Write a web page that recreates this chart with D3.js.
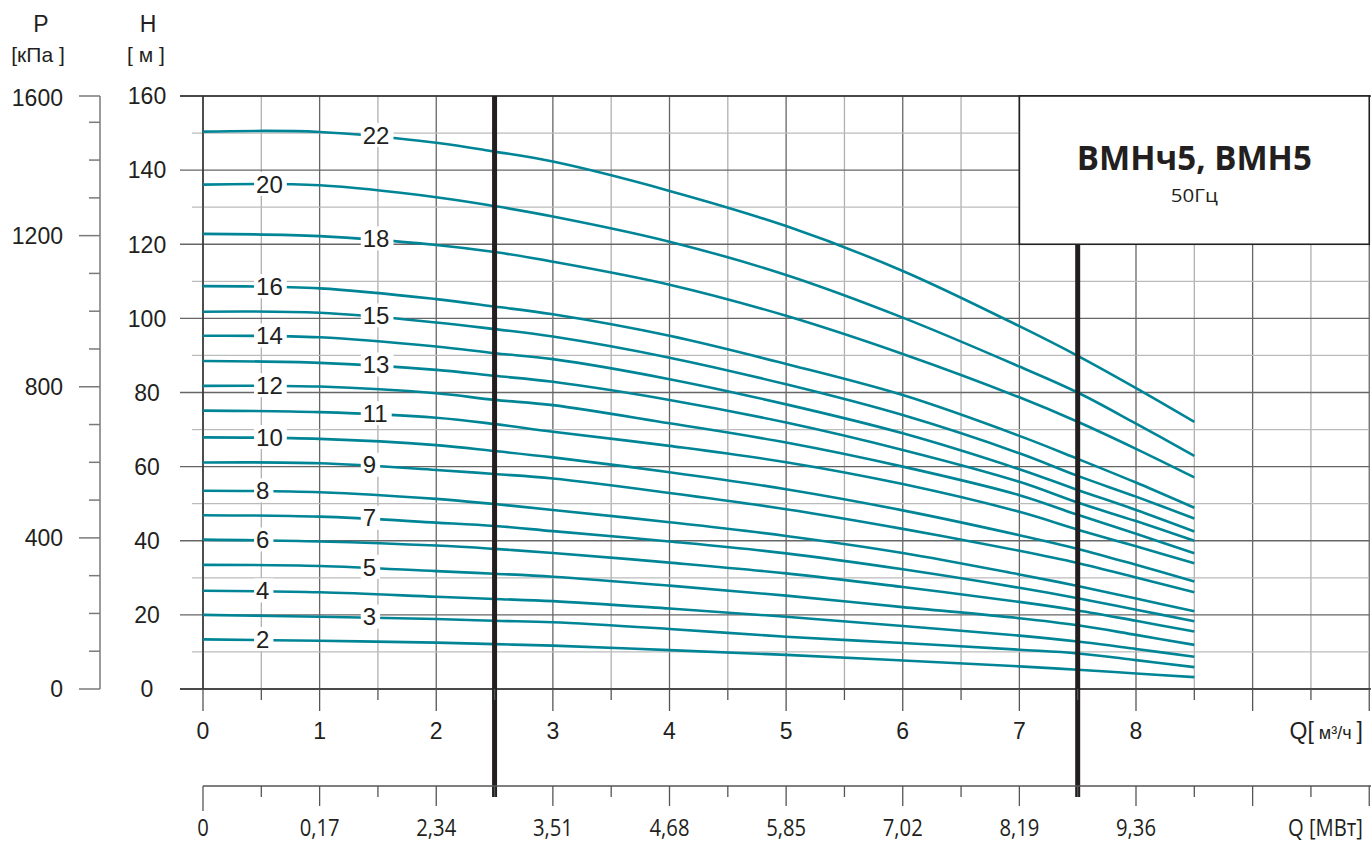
<!DOCTYPE html>
<html>
<head>
<meta charset="utf-8">
<script src="https://cdn.jsdelivr.net/npm/d3@7"></script>
<style>
  body { margin: 0; background: #fff; }
  svg { display: block; font-family: "Liberation Sans", Arial, sans-serif; }
</style>
</head>
<body>
<div class="d3"></div>
<script>
// flow rate points (m3/h)
const flow = [0, 1, 2, 2.5, 3, 4, 5, 6, 7, 7.5, 8, 8.5];

// head (m) per number of stages
const head22 = [150.4, 150.3, 147.4, 145.0, 142.3, 134.4, 124.9, 112.8, 97.9, 89.9, 81.2, 72.1];
const head20 = [136.1, 135.9, 132.7, 130.3, 127.5, 120.7, 111.7, 100.2, 87.0, 80.0, 71.6, 62.9];
const head18 = [122.8, 122.2, 119.8, 117.9, 115.3, 109.1, 100.7, 90.4, 78.7, 72.1, 64.8, 57.1];
const head16 = [108.7, 108.1, 105.2, 103.2, 101.1, 95.3, 87.7, 79.3, 68.3, 62.1, 55.7, 48.9];
const head15 = [101.8, 101.5, 98.9, 97.1, 95.1, 89.4, 82.2, 73.9, 63.6, 57.5, 51.9, 46.0];
const head14 = [95.3, 94.9, 92.4, 90.6, 89.0, 83.6, 76.8, 69.0, 59.3, 53.7, 48.3, 42.5];
const head13 = [88.5, 88.0, 86.1, 84.5, 82.9, 78.0, 71.9, 64.5, 55.9, 50.3, 45.3, 40.0];
const head12 = [81.8, 81.6, 79.8, 78.0, 76.6, 71.7, 66.5, 60.0, 52.3, 47.0, 41.9, 36.6];
const head11 = [75.1, 74.7, 73.2, 71.5, 69.4, 65.6, 61.2, 55.3, 47.8, 43.0, 38.5, 33.9];
const head10 = [67.9, 67.5, 65.8, 64.2, 62.5, 58.5, 53.9, 48.2, 41.5, 37.8, 33.5, 29.0];
const head9  = [61.1, 60.9, 59.1, 58.0, 56.8, 52.9, 48.5, 43.2, 37.3, 34.0, 30.1, 26.1];
const head8  = [53.5, 53.1, 51.3, 49.9, 48.3, 45.0, 41.3, 36.7, 30.9, 27.8, 24.4, 21.0];
const head7  = [46.9, 46.5, 44.9, 44.0, 42.6, 39.8, 36.6, 32.3, 27.3, 24.5, 21.4, 18.3];
const head6  = [40.3, 39.8, 38.7, 37.8, 36.7, 34.1, 31.2, 27.5, 23.5, 21.2, 18.4, 15.5];
const head5  = [33.5, 33.2, 31.8, 31.1, 30.3, 27.9, 25.2, 22.1, 19.1, 17.2, 14.6, 11.9];
const head4  = [26.5, 26.1, 24.9, 24.3, 23.7, 21.7, 19.5, 17.0, 14.4, 12.8, 10.8, 8.7];
const head3  = [20.0, 19.5, 18.9, 18.4, 18.0, 16.2, 14.1, 12.4, 10.6, 9.6, 7.8, 5.9];
const head2  = [13.4, 13.0, 12.5, 12.1, 11.7, 10.5, 9.2, 7.7, 6.1, 5.2, 4.2, 3.2];

const stages = [22, 20, 18, 16, 15, 14, 13, 12, 11, 10, 9, 8, 7, 6, 5, 4, 3, 2];
const heads = [head22, head20, head18, head16, head15, head14, head13, head12, head11,
               head10, head9, head8, head7, head6, head5, head4, head3, head2];
// flow where each curve label starts
const labelFlow = [1.37, 0.455, 1.37, 0.455, 1.37, 0.455, 1.37, 0.455, 1.37,
                   0.455, 1.37, 0.455, 1.37, 0.455, 1.37, 0.455, 1.37, 0.455];

const hLabels = [0, 20, 40, 60, 80, 100, 120, 140, 160];
const pLabels = [0, 400, 800, 1200, 1600];
const qLabels = [0, 1, 2, 3, 4, 5, 6, 7, 8];
const powerLabels = ['0', '0,17', '2,34', '3,51', '4,68', '5,85', '7,02', '8,19', '9,36'];
const dutyLines = [2.5, 7.5];

const width = 1371;
const height = 844;
const teal = '#008597';

const svg = d3.select('.d3').append('svg')
  .attr('width', width)
  .attr('height', height);

const x = d3.scaleLinear().domain([0, 10]).range([203, 1369.25]);
const y = d3.scaleLinear().domain([0, 160]).range([689, 96]);
const yP = d3.scaleLinear().domain([0, 160 * 9.81]).range([689, 96]).clamp(true);

// grid
const halfSteps = d3.range(0, 10.01, 0.5);
const tenSteps = d3.range(0, 160.1, 10);
const grid = svg.append('g');

grid.selectAll('line.v')
  .data(halfSteps)
  .enter().append('line')
  .attr('x1', d => x(d)).attr('x2', d => x(d))
  .attr('y1', y(160)).attr('y2', y(0))
  .attr('stroke', d => d % 1 === 0 ? '#666' : '#b0b0b0')
  .attr('stroke-width', 1.3);

grid.selectAll('line.h')
  .data(tenSteps)
  .enter().append('line')
  .attr('x1', d => d % 20 === 0 ? 180 : 192).attr('x2', x(10))
  .attr('y1', d => y(d)).attr('y2', d => y(d))
  .attr('stroke', d => d % 20 === 0 ? '#666' : '#bbb')
  .attr('stroke-width', 1.3);

// frame lines
svg.append('line')
  .attr('x1', 180).attr('x2', width).attr('y1', y(160)).attr('y2', y(160))
  .attr('stroke', '#333').attr('stroke-width', 1.5);
svg.append('line')
  .attr('x1', 180).attr('x2', width).attr('y1', y(0)).attr('y2', y(0))
  .attr('stroke', '#333').attr('stroke-width', 1.6);
svg.append('line')
  .attr('x1', x(0)).attr('x2', x(0)).attr('y1', y(160)).attr('y2', y(0))
  .attr('stroke', '#333').attr('stroke-width', 1.5);

// title box
svg.append('rect')
  .attr('x', x(7)).attr('y', y(160))
  .attr('width', x(10) - x(7)).attr('height', y(120) - y(160))
  .attr('fill', '#fff').attr('stroke', '#222').attr('stroke-width', 1.6);

svg.append('text')
  .attr('x', (x(7) + x(10)) / 2).attr('y', 170)
  .attr('text-anchor', 'middle')
  .attr('textLength', 235).attr('lengthAdjust', 'spacingAndGlyphs')
  .style('font-family', '"Open Sans", sans-serif')
  .style('font-weight', 700).style('font-size', '34px')
  .attr('fill', '#231f20')
  .text('ВМНч5, ВМН5');

svg.append('text')
  .attr('x', (x(7) + x(10)) / 2).attr('y', 202)
  .attr('text-anchor', 'middle')
  .attr('textLength', 47).attr('lengthAdjust', 'spacingAndGlyphs')
  .style('font-family', '"Open Sans", sans-serif')
  .style('font-size', '18px')
  .attr('fill', '#231f20')
  .text('50Гц');

// curves
const line = d3.line()
  .x(d => x(d[0]))
  .y(d => y(d[1]))
  .curve(d3.curveCatmullRom.alpha(0.5));

const curves = svg.append('g');
curves.selectAll('path')
  .data(heads)
  .enter().append('path')
  .attr('d', h => line(flow.map((q, i) => [q, h[i]])))
  .attr('fill', 'none')
  .attr('stroke', teal)
  .attr('stroke-width', 2.6);

// curve labels with white backing
const labels = svg.append('g');
stages.forEach((s, i) => {
  const interp = d3.scaleLinear().domain(flow).range(heads[i]);
  const q = labelFlow[i];
  const yy = y(interp(q)) - 1;
  const g = labels.append('g');
  const t = g.append('text')
    .attr('x', x(q)).attr('y', yy)
    .attr('dy', '0.36em')
    .style('font-size', '24px')
    .attr('fill', '#231f20')
    .text(s);
  const b = t.node().getBBox();
  g.insert('rect', 'text')
    .attr('x', b.x - 2).attr('y', yy - 12)
    .attr('width', b.width + 6).attr('height', 24)
    .attr('fill', '#fff');
});

// duty lines
svg.selectAll('line.duty')
  .data(dutyLines)
  .enter().append('line')
  .attr('x1', d => x(d)).attr('x2', d => x(d))
  .attr('y1', d => d < 5 ? y(160) : y(120)).attr('y2', 797)
  .attr('stroke', '#231f20')
  .attr('stroke-width', 5);

// H axis
const hAxis = svg.append('g');
hAxis.selectAll('text')
  .data(hLabels)
  .enter().append('text')
  .attr('x', 147).attr('y', d => y(d))
  .attr('dy', '0.36em')
  .attr('text-anchor', 'middle')
  .style('font-size', '23px')
  .attr('fill', '#231f20')
  .text(d => d);

// P axis
const pAxis = svg.append('g');
const pTicks = d3.range(0, 1501, 100).concat([1600]);
pAxis.append('line')
  .attr('x1', 100).attr('x2', 100).attr('y1', yP(1600)).attr('y2', yP(0))
  .attr('stroke', '#7a7a7a').attr('stroke-width', 1.5);
pAxis.selectAll('line.t')
  .data(pTicks)
  .enter().append('line')
  .attr('x1', d => pLabels.includes(d) ? 79 : 89).attr('x2', 100)
  .attr('y1', d => yP(d)).attr('y2', d => yP(d))
  .attr('stroke', '#7a7a7a').attr('stroke-width', 1.5);
pAxis.selectAll('text')
  .data(pLabels)
  .enter().append('text')
  .attr('x', 63).attr('y', d => yP(d) + (d === 1600 ? 2 : 0))
  .attr('dy', '0.36em')
  .attr('text-anchor', 'end')
  .style('font-size', '23px')
  .attr('fill', '#231f20')
  .text(d => d);

// axis headers
const head = svg.append('g').attr('fill', '#231f20').attr('text-anchor', 'middle');
head.append('text').attr('x', 41).attr('y', 32).style('font-size', '23px').text('P');
head.append('text').attr('x', 38).attr('y', 62).style('font-size', '21px').text('[кПа ]');
head.append('text').attr('x', 148).attr('y', 32).style('font-size', '23px').text('H');
head.append('text').attr('x', 146).attr('y', 62).style('font-size', '21px').text('[ м ]');

// Q axis (m3/h)
const qAxis = svg.append('g');
qAxis.selectAll('line')
  .data(halfSteps)
  .enter().append('line')
  .attr('x1', d => x(d)).attr('x2', d => x(d))
  .attr('y1', y(0)).attr('y2', d => d % 1 === 0 ? 711 : 700)
  .attr('stroke', '#555').attr('stroke-width', 1.3);
qAxis.selectAll('text')
  .data(qLabels)
  .enter().append('text')
  .attr('x', d => x(d)).attr('y', 739)
  .attr('text-anchor', 'middle')
  .style('font-size', '23px')
  .attr('fill', '#231f20')
  .text(d => d);
const qTitle = qAxis.append('text')
  .attr('x', 1363).attr('y', 739)
  .attr('text-anchor', 'end')
  .attr('fill', '#231f20')
  .style('font-size', '23px');
qTitle.append('tspan').text('Q[');
qTitle.append('tspan').style('font-size', '18px').text(' м³/ч ');
qTitle.append('tspan').text(']');

// Q axis (MW)
const wAxis = svg.append('g');
wAxis.append('line')
  .attr('x1', x(0)).attr('x2', width).attr('y1', 786).attr('y2', 786)
  .attr('stroke', '#555').attr('stroke-width', 1.4);
wAxis.selectAll('line.t')
  .data(halfSteps)
  .enter().append('line')
  .attr('x1', d => x(d)).attr('x2', d => x(d))
  .attr('y1', 786).attr('y2', d => d === 0 ? 811 : (d % 1 === 0 ? 806 : 797))
  .attr('stroke', '#555').attr('stroke-width', 1.3);
wAxis.selectAll('text')
  .data(powerLabels)
  .enter().append('text')
  .attr('transform', (d, i) => `translate(${x(i)},836) scale(0.88,1)`)
  .attr('text-anchor', 'middle')
  .style('font-family', '"Open Sans", sans-serif')
  .style('font-size', '23px')
  .attr('fill', '#231f20')
  .text(d => d);
wAxis.append('text')
  .attr('transform', 'translate(1363,836) scale(0.88,1)')
  .attr('text-anchor', 'end')
  .style('font-family', '"Open Sans", sans-serif')
  .style('font-size', '23px')
  .attr('fill', '#231f20')
  .text('Q [МВт]');
</script>
</body>
</html>
